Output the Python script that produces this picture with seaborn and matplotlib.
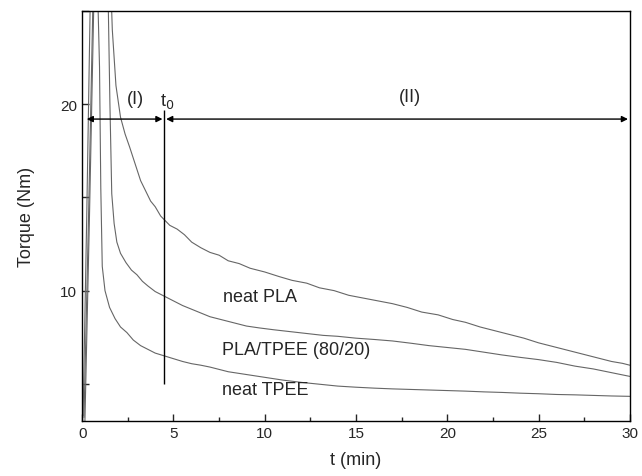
import matplotlib
matplotlib.use("Agg")
import matplotlib.pyplot as plt
import pandas as pd
import seaborn as sns

# hand-read torque curves (t in min, torque in Nm)
pla_t = [0.10, 0.35, 0.60, 1.00, 1.45, 1.65, 1.85, 2.10, 2.35, 2.60, 2.90, 3.20,
         3.50, 3.75, 4.00, 4.30, 4.50, 4.80, 5.20, 5.60, 6.00, 6.50, 7.00, 7.50,
         8.00, 8.60, 9.20, 10.0, 10.8, 11.5, 12.3, 13.0, 13.8, 14.6, 15.4, 16.2,
         17.0, 17.8, 18.6, 19.5, 20.3, 21.0, 21.8, 22.6, 23.4, 24.2, 25.0, 25.8,
         26.6, 27.4, 28.2, 29.0, 29.6, 30.0]
pla_tq = [3.2, 14.0, 26.0, 32.0, 30.0, 24.0, 21.0, 19.3, 18.4, 17.7, 16.8, 15.9,
          15.3, 14.8, 14.5, 14.0, 13.8, 13.5, 13.3, 13.0, 12.6, 12.3, 12.05, 11.9,
          11.6, 11.45, 11.2, 11.0, 10.75, 10.55, 10.4, 10.15, 10.0, 9.75, 9.6, 9.45,
          9.3, 9.1, 8.85, 8.7, 8.45, 8.3, 8.05, 7.85, 7.65, 7.45, 7.2, 7.0,
          6.8, 6.6, 6.4, 6.2, 6.1, 6.0]

blend_t = [0.15, 0.40, 0.65, 1.00, 1.40, 1.52, 1.62, 1.75, 1.90, 2.10, 2.40, 2.70,
           3.00, 3.30, 3.60, 4.00, 4.50, 5.00, 5.50, 6.00, 6.50, 7.00, 7.60, 8.20,
           9.00, 9.70, 10.5, 11.4, 12.3, 13.2, 14.0, 15.0, 16.0, 17.0, 18.0, 19.0,
           20.0, 21.0, 22.0, 23.0, 24.0, 25.0, 26.0, 27.0, 28.0, 29.0, 30.0]
blend_tq = [3.0, 14.0, 26.0, 31.0, 27.0, 20.0, 15.2, 13.6, 12.6, 12.0, 11.5, 11.1,
            10.85, 10.5, 10.25, 9.95, 9.7, 9.45, 9.2, 9.0, 8.8, 8.6, 8.45, 8.3,
            8.1, 8.0, 7.9, 7.8, 7.7, 7.6, 7.55, 7.45, 7.38, 7.3, 7.18, 7.05,
            6.95, 6.85, 6.7, 6.55, 6.42, 6.3, 6.15, 5.95, 5.8, 5.6, 5.4]

tpee_t = [0.05, 0.25, 0.45, 0.75, 0.95, 1.02, 1.10, 1.25, 1.50, 1.80, 2.10, 2.45,
          2.80, 3.20, 3.60, 4.00, 4.50, 5.00, 5.50, 6.00, 6.50, 7.00, 8.00, 9.00,
          10.0, 11.0, 12.0, 13.0, 14.0, 15.0, 16.0, 17.0, 18.0, 19.0, 20.0, 21.0,
          22.0, 23.0, 24.0, 25.0, 26.0, 27.0, 28.0, 29.0, 30.0]
tpee_tq = [3.3, 14.0, 26.0, 30.0, 22.0, 15.5, 11.3, 10.0, 9.1, 8.5, 8.05, 7.75,
           7.35, 7.05, 6.85, 6.65, 6.5, 6.35, 6.2, 6.08, 6.0, 5.9, 5.65, 5.5,
           5.35, 5.2, 5.08, 4.98, 4.88, 4.82, 4.77, 4.73, 4.7, 4.67, 4.64, 4.61,
           4.57, 4.54, 4.5, 4.47, 4.43, 4.41, 4.38, 4.35, 4.33]

curve_names = ["neat PLA", "PLA/TPEE (80/20)", "neat TPEE"]


def main():
    df = pd.concat([
        pd.DataFrame({"t": pla_t, "torque": pla_tq, "sample": curve_names[0]}),
        pd.DataFrame({"t": blend_t, "torque": blend_tq, "sample": curve_names[1]}),
        pd.DataFrame({"t": tpee_t, "torque": tpee_tq, "sample": curve_names[2]}),
    ])

    sns.set_style("ticks")
    plt.rcParams["font.family"] = ["Liberation Sans", "DejaVu Sans"]

    fig = plt.figure(figsize=(6.42, 4.77), dpi=100)
    ax = fig.add_axes([0.128, 0.115, 0.853, 0.86])

    sns.lineplot(data=df, x="t", y="torque", hue="sample", units="sample",
                 estimator=None, sort=False, palette=["#666666"] * 3,
                 linewidth=0.8, legend=False, ax=ax)

    ax.set_xlim(0, 30)
    ax.set_ylim(3, 25)
    ax.set_xticks([0, 5, 10, 15, 20, 25, 30])
    ax.set_xticks([2.5, 7.5, 12.5, 17.5, 22.5, 27.5], minor=True)
    ax.set_yticks([10, 20])
    ax.set_yticks([5, 15, 25], minor=True)
    ax.tick_params(which="major", direction="in", length=5, width=1, labelsize=11)
    ax.tick_params(axis="y", which="minor", direction="in", length=5, width=1)
    ax.tick_params(axis="x", which="minor", direction="in", length=3, width=1)
    for s in ax.spines.values():
        s.set_color("black")
        s.set_linewidth(1.0)

    ax.set_xlabel("t (min)", fontsize=13, labelpad=8)
    ax.set_ylabel("Torque (Nm)", fontsize=13, labelpad=18)

    # regime markers
    ax.vlines(4.5, 5.0, 19.7, color="black", linewidth=1)
    arrow = dict(arrowstyle="<|-|>", color="black", lw=1, mutation_scale=9,
                 shrinkA=0, shrinkB=0)
    ax.annotate("", xy=(0.25, 19.2), xytext=(4.4, 19.2), arrowprops=arrow)
    ax.annotate("", xy=(4.6, 19.2), xytext=(29.9, 19.2), arrowprops=arrow)
    ax.text(2.9, 20.3, "(I)", fontsize=13, ha="center", va="center")
    ax.text(4.65, 20.2, "t$_0$", fontsize=13, ha="center", va="center")
    ax.text(17.95, 20.4, "(II)", fontsize=13, ha="center", va="center")

    ax.text(7.7, 9.7, "neat PLA", fontsize=13, ha="left", va="center")
    ax.text(7.65, 6.85, "PLA/TPEE (80/20)", fontsize=13, ha="left", va="center")
    ax.text(7.65, 4.7, "neat TPEE", fontsize=13, ha="left", va="center")

    fig.savefig("out.png", dpi=100)


if __name__ == "__main__":
    main()
